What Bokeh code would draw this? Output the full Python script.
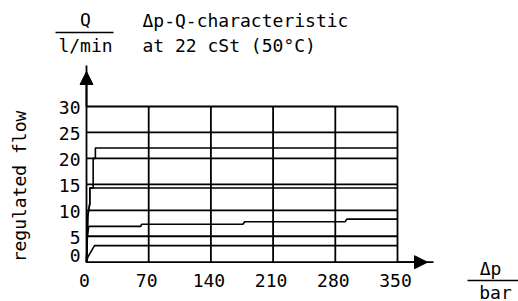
from bokeh.plotting import figure
from bokeh.models import Range1d, Arrow, NormalHead
from bokeh.core.properties import value
from bokeh.embed import file_html
from bokeh.resources import INLINE
from math import pi

# ---------------- data ----------------
x_ticks = [0, 70, 140, 210, 280, 350]
y_ticks = [0, 5, 10, 15, 20, 25, 30]

# regulated-flow curves (Δp in bar, Q in l/min)
curve_22_x = [0, 1.5, 3.7, 3.7, 7.5, 7.5, 10, 10, 350]
curve_22_y = [0, 9, 11.3, 14.3, 14.3, 20, 20, 22, 22]
curve_14_x = [0, 1.5, 3.7, 3.7, 350]
curve_14_y = [0, 9, 11.3, 14.3, 14.3]
curve_7_x = [0, 1, 2.5, 61, 62, 176, 178, 291, 293, 350]
curve_7_y = [0, 5, 6.9, 6.9, 7.3, 7.3, 7.8, 7.8, 8.3, 8.3]
curve_3_x = [0, 1.5, 9, 350]
curve_3_y = [0, 1, 3.2, 3.2]

y_unit_top = "Q"
y_unit_bottom = "l/min"
title_1 = "Δp-Q-characteristic"
title_2 = "at 22 cSt (50°C)"
y_label = "regulated flow"
x_unit_top = "Δp"
x_unit_bottom = "bar"

# ---------------- layout helpers (canvas pixels -> data) ----------------
W, H = 518, 301
X0, KX = 86.0, 311.0 / 350.0
Y0, KY = 261.7, (261.7 - 106.0) / 30.0
BL = 5.5  # baseline correction of the svg text
def dx(px):
    return (px - X0) / KX
def dy(py):
    return (Y0 - py) / KY

p = figure(width=W, height=H, output_backend="svg", toolbar_location=None,
           x_range=Range1d(dx(0), dx(W)), y_range=Range1d(dy(H), dy(0)),
           min_border=0)
p.xaxis.visible = False
p.yaxis.visible = False
p.outline_line_color = None
p.xgrid.visible = False
p.ygrid.visible = False
p.background_fill_color = "white"
p.border_fill_color = "white"

FONT = value("DejaVu Sans Mono")
FS = value("18px")
TXT = dict(text_font=FONT, text_font_size=FS, text_color="black")

LW = 1.8
# grid
p.multi_line([[t, t] for t in x_ticks[1:]], [[0, y_ticks[-1]] for t in x_ticks[1:]],
             line_color="black", line_width=LW)
p.multi_line([[0, x_ticks[-1]] for t in y_ticks[1:]], [[t, t] for t in y_ticks[1:]],
             line_color="black", line_width=LW)

# axes with arrows
p.line([0, 0], [0, dy(65)], line_color="black", line_width=LW)
p.line([0, dx(433)], [0, 0], line_color="black", line_width=LW)
p.add_layout(Arrow(end=NormalHead(size=13, fill_color="black", line_color="black"),
                   x_start=0, y_start=y_ticks[-1], x_end=0, y_end=dy(71),
                   line_color="black", line_width=LW))
p.add_layout(Arrow(end=NormalHead(size=13, fill_color="black", line_color="black"),
                   x_start=x_ticks[-1], y_start=0, x_end=dx(427), y_end=0,
                   line_color="black", line_width=LW))

# tick labels
p.text(x=x_ticks, y=[y_ticks[0]] * len(x_ticks), text=[str(t) for t in x_ticks],
       text_align="center", text_baseline="alphabetic", x_offset=-2,
       y_offset=23.5 - BL, **TXT)
p.text(x=[x_ticks[0]] * (len(y_ticks) - 1), y=y_ticks[1:], text=[str(t) for t in y_ticks[1:]],
       text_align="right", text_baseline="alphabetic", x_offset=-6,
       y_offset=6.5 - BL, **TXT)
p.text(x=[x_ticks[0]], y=[y_ticks[0]], text=[str(y_ticks[0])],
       text_align="right", text_baseline="alphabetic", x_offset=-6,
       y_offset=-1 - BL, **TXT)

# curves
for cx, cy in ((curve_22_x, curve_22_y), (curve_14_x, curve_14_y),
               (curve_7_x, curve_7_y), (curve_3_x, curve_3_y)):
    p.line(cx, cy, line_color="black", line_width=1.6)

def lab(text, px, py, align="left", angle=0):
    p.text(x=[dx(px)], y=[dy(py)], text=[text], text_align=align,
           text_baseline="alphabetic", angle=angle, **TXT)

def rule(px0, px1, py):
    p.line([dx(px0), dx(px1)], [dy(py), dy(py)], line_color="black", line_width=1.5)

lab(y_unit_top, 85, 24 - BL, align="center")
rule(55, 113, 32)
lab(y_unit_bottom, 85, 50 - BL, align="center")
lab(title_1, 142, 25 - BL)
lab(title_2, 142, 50 - BL)
lab(y_label, 24 - BL, 186, align="center", angle=pi / 2)
lab(x_unit_top, 490, 273 - BL, align="center")
rule(467, 518, 280)
lab(x_unit_bottom, 495, 297 - BL, align="center")

open("out.html", "w").write(file_html(p, INLINE))
